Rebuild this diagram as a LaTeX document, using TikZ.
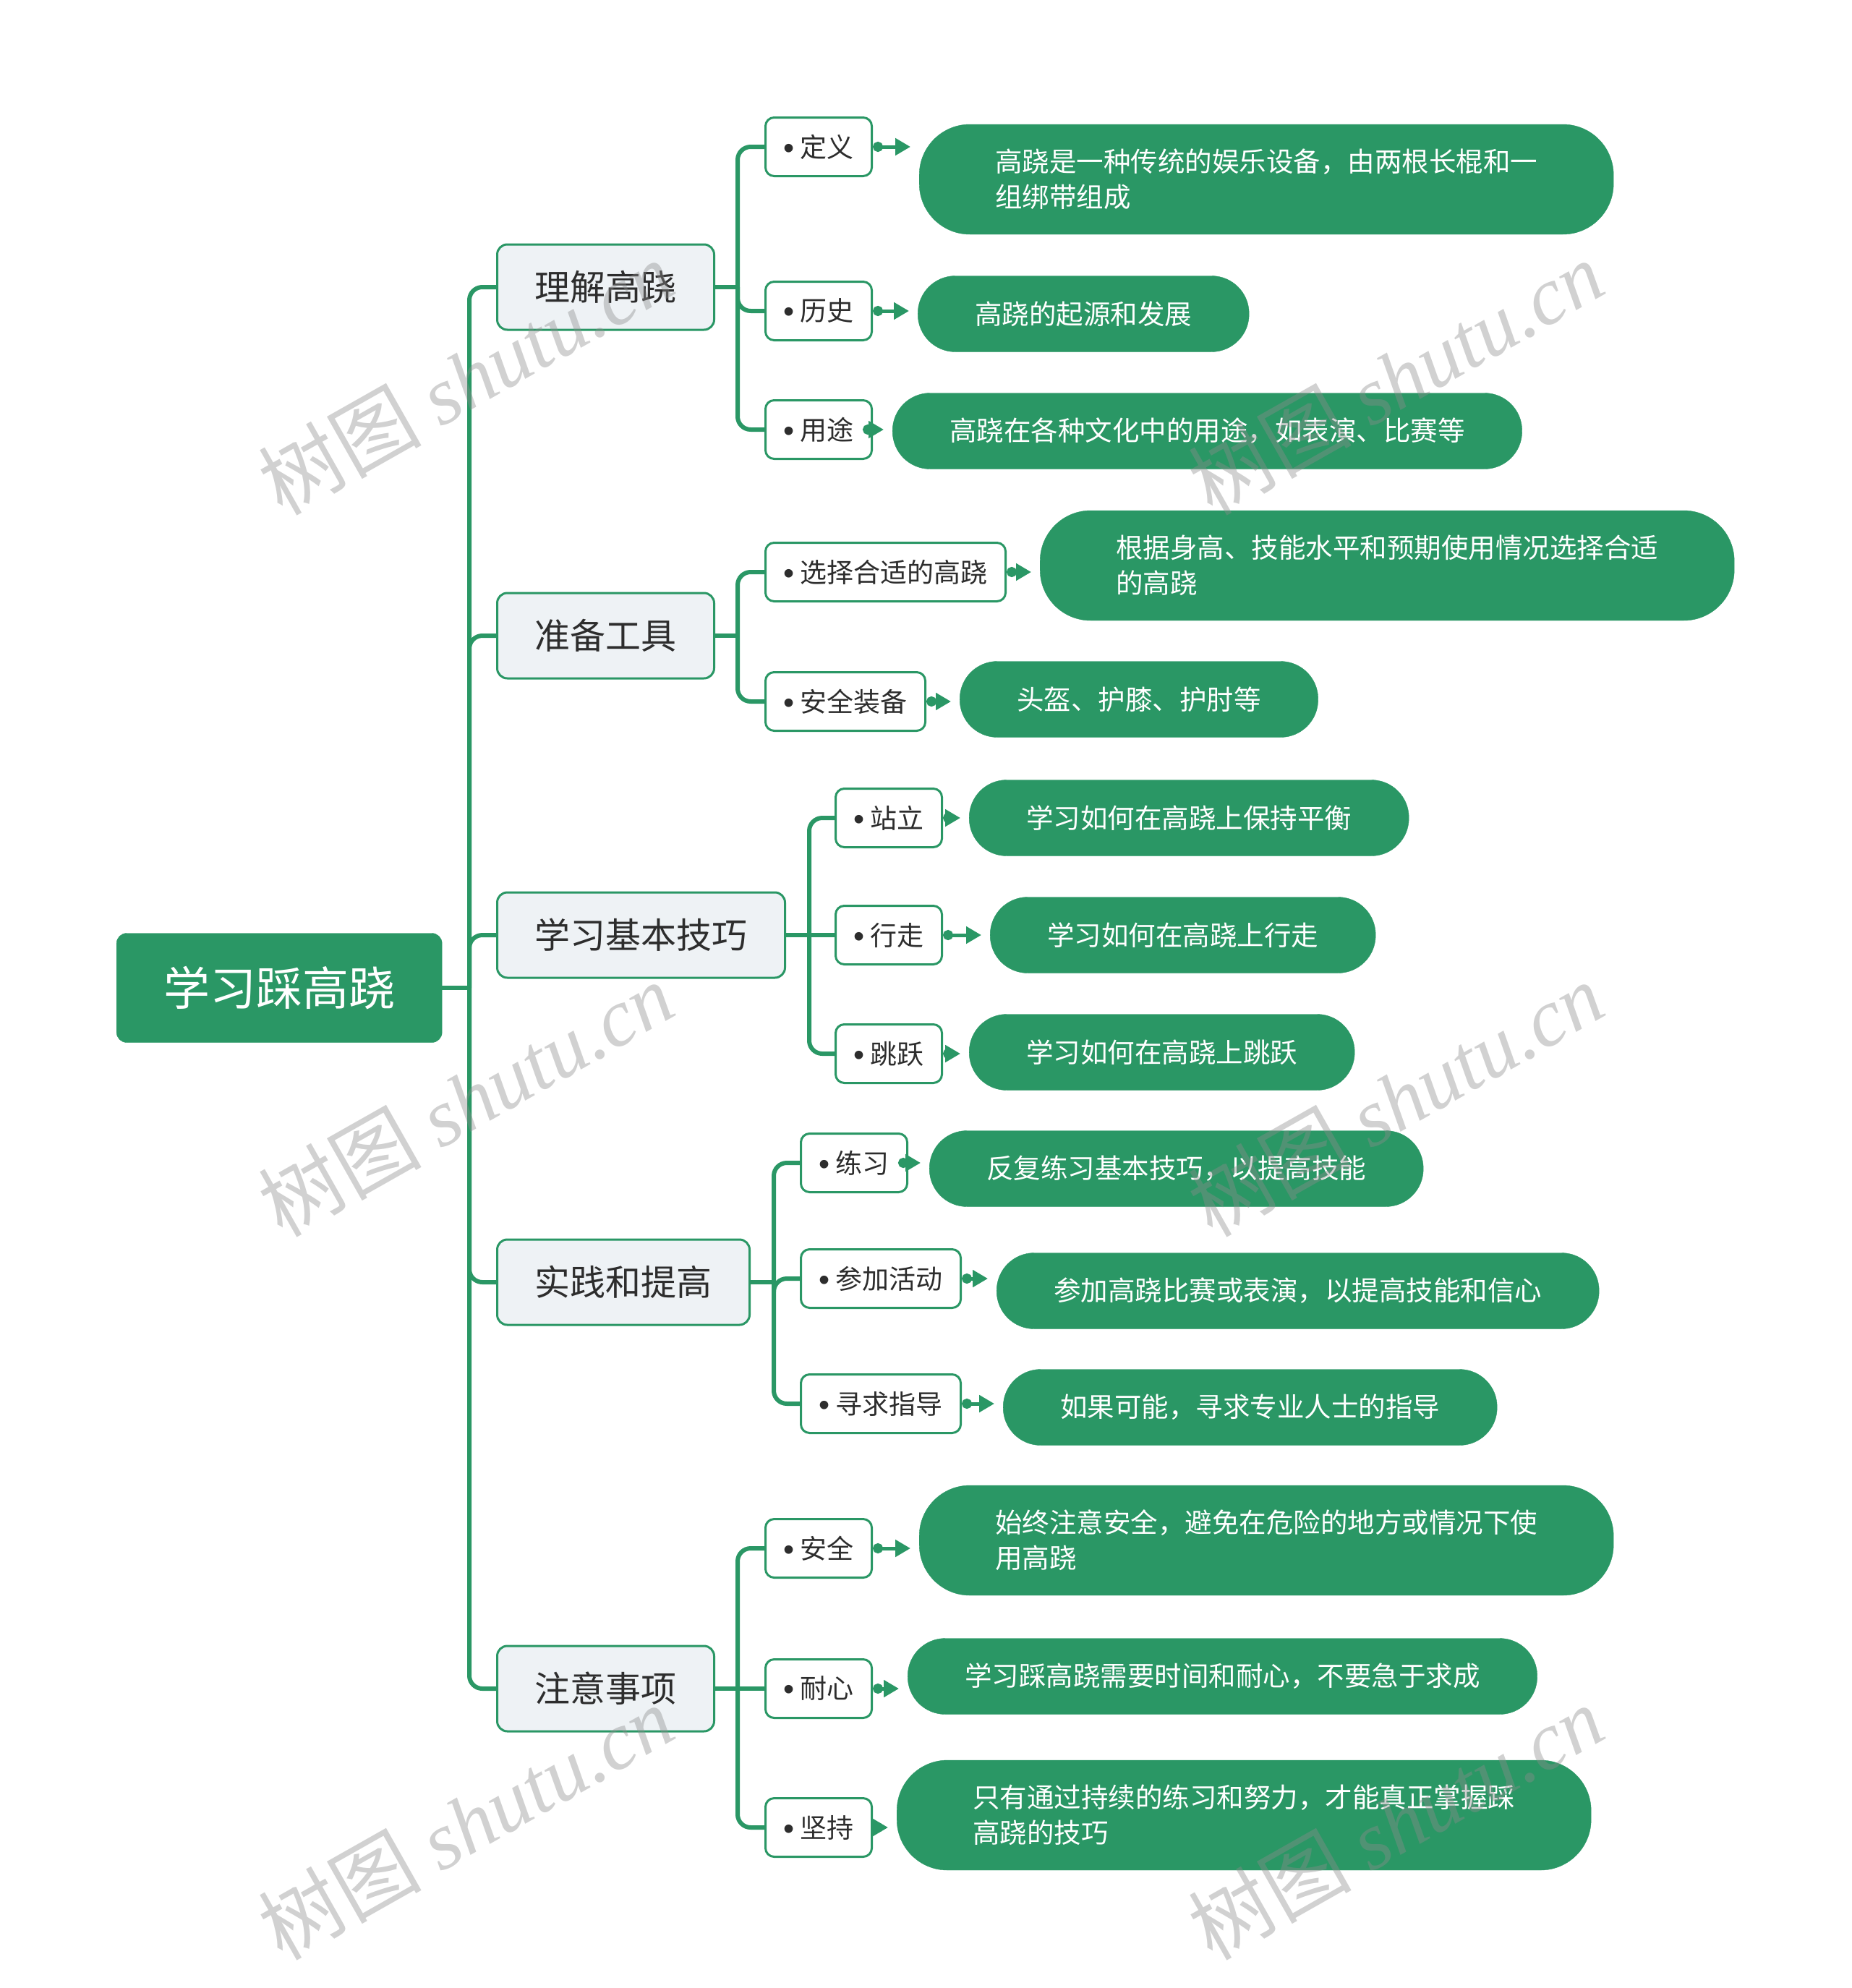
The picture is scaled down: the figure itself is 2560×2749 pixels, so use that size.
\documentclass[tikz,border=0pt]{standalone}
\usepackage{fontspec}
\setmainfont{Noto Sans CJK SC}
\newfontfamily\markfont{Liberation Serif}
\newfontfamily\dotfont{Liberation Sans}
\usetikzlibrary{arrows.meta}

\definecolor{stiltgreen}{RGB}{42,151,101}
\definecolor{topicgray}{RGB}{238,242,245}
\definecolor{inkgray}{RGB}{45,45,45}

\newcommand{\bul}{\raisebox{-2pt}{\dotfont\fontsize{43pt}{43pt}\selectfont\textbullet}\hspace{8pt}}

\tikzset{
  rootbox/.style={fill=stiltgreen, draw=stiltgreen, rounded corners=14pt, text=white, minimum height=151pt, inner xsep=65pt, font=\fontsize{64pt}{64pt}\selectfont, anchor=west},
  topicbox/.style={fill=topicgray, draw=stiltgreen, line width=3pt, rounded corners=14pt, text=inkgray, minimum height=118pt, inner xsep=52pt, font=\fontsize{49pt}{49pt}\selectfont, anchor=west},
  itembox/.style={fill=white, draw=stiltgreen, line width=3pt, rounded corners=12pt, text=inkgray, minimum height=81pt, inner xsep=25pt, font=\fontsize{37pt}{37pt}\selectfont, anchor=west},
  leafbox/.style={fill=stiltgreen, draw=stiltgreen, rounded corners=52pt, text=white, minimum height=105pt, inner xsep=79pt, font=\fontsize{37.5pt}{49pt}\selectfont, anchor=west},
  leaftwo/.style={leafbox, rounded corners=70pt, minimum height=152pt, inner xsep=105pt, align=left},
  branch/.style={draw=stiltgreen, line width=6pt, rounded corners=18pt},
  link/.style={draw=stiltgreen, line width=5pt, {Circle[length=14pt]}-{Triangle[length=21pt,width=23pt,sep=5pt]}, shorten >=7pt},
  stamp/.style={text=black!45, opacity=0.4, rotate=29.5, font=\fontsize{113pt}{113pt}\selectfont}
}

\begin{document}
\begin{tikzpicture}[x=1pt, y=-1pt]
  \useasboundingbox (0,0) rectangle (2560,2749);

  % root and topics
  \node[rootbox] (root) at (161,1366) {学习踩高跷};
  \node[topicbox] (understand) at (686,397) {理解高跷};
  \node[topicbox] (tools) at (686,879) {准备工具};
  \node[topicbox] (basics) at (686,1293) {学习基本技巧};
  \node[topicbox] (practice) at (686,1773) {实践和提高};
  \node[topicbox] (cautions) at (686,2335) {注意事项};

  \coordinate (t0) at (649,1366);
  \draw[branch] (root.east) -- (t0);
  \draw[branch] (t0) |- (understand.west);
  \draw[branch] (t0) |- (tools.west);
  \draw[branch] (t0) |- (basics.west);
  \draw[branch] (t0) |- (practice.west);
  \draw[branch] (t0) |- (cautions.west);

  % 理解高跷
  \node[itembox] (define) at (1057,203) {\bul 定义};
  \node[itembox] (history) at (1057,430) {\bul 历史};
  \node[itembox] (usage) at (1057,594) {\bul 用途};
  \node[leaftwo] (defineleaf) at (1271,248) {高跷是一种传统的娱乐设备，由两根长棍和一\\组绑带组成};
  \node[leafbox] (historyleaf) at (1269,434) {高跷的起源和发展};
  \node[leafbox] (usageleaf) at (1234,596) {高跷在各种文化中的用途，如表演、比赛等};
  \coordinate (j1) at (1020,397);
  \draw[branch] (understand.east) -- (j1);
  \draw[branch] (j1) |- (define.west);
  \draw[branch] (j1) |- (history.west);
  \draw[branch] (j1) |- (usage.west);
  \draw[link] (define.east) -- (define.east -| defineleaf.west);
  \draw[link] (history.east) -- (history.east -| historyleaf.west);
  \draw[link] (usage.east) -- (usage.east -| usageleaf.west);

  % 准备工具
  \node[itembox] (choose) at (1057,791) {\bul 选择合适的高跷};
  \node[itembox] (gear) at (1057,970) {\bul 安全装备};
  \node[leaftwo] (chooseleaf) at (1438,782) {根据身高、技能水平和预期使用情况选择合适\\的高跷};
  \node[leafbox] (gearleaf) at (1327,967) {头盔、护膝、护肘等};
  \coordinate (j2) at (1020,879);
  \draw[branch] (tools.east) -- (j2);
  \draw[branch] (j2) |- (choose.west);
  \draw[branch] (j2) |- (gear.west);
  \draw[link] (choose.east) -- (choose.east -| chooseleaf.west);
  \draw[link] (gear.east) -- (gear.east -| gearleaf.west);

  % 学习基本技巧
  \node[itembox] (stand) at (1154,1131) {\bul 站立};
  \node[itembox] (walk) at (1154,1293) {\bul 行走};
  \node[itembox] (jump) at (1154,1457) {\bul 跳跃};
  \node[leafbox] (standleaf) at (1340,1131) {学习如何在高跷上保持平衡};
  \node[leafbox] (walkleaf) at (1369,1293) {学习如何在高跷上行走};
  \node[leafbox] (jumpleaf) at (1340,1455) {学习如何在高跷上跳跃};
  \coordinate (j3) at (1119,1293);
  \draw[branch] (basics.east) -- (walk.west);
  \draw[branch] (j3) |- (stand.west);
  \draw[branch] (j3) |- (jump.west);
  \draw[link] (stand.east) -- (stand.east -| standleaf.west);
  \draw[link] (walk.east) -- (walk.east -| walkleaf.west);
  \draw[link] (jump.east) -- (jump.east -| jumpleaf.west);

  % 实践和提高
  \node[itembox] (drill) at (1106,1608) {\bul 练习};
  \node[itembox] (events) at (1106,1768) {\bul 参加活动};
  \node[itembox] (coach) at (1106,1941) {\bul 寻求指导};
  \node[leafbox] (drillleaf) at (1285,1616) {反复练习基本技巧，以提高技能};
  \node[leafbox] (eventsleaf) at (1378,1785) {参加高跷比赛或表演，以提高技能和信心};
  \node[leafbox] (coachleaf) at (1387,1946) {如果可能，寻求专业人士的指导};
  \coordinate (j4) at (1070,1773);
  \draw[branch] (practice.east) -- (j4);
  \draw[branch] (j4) |- (drill.west);
  \draw[branch] (j4) |- (events.west);
  \draw[branch] (j4) |- (coach.west);
  \draw[link] (drill.east) -- (drill.east -| drillleaf.west);
  \draw[link] (events.east) -- (events.east -| eventsleaf.west);
  \draw[link] (coach.east) -- (coach.east -| coachleaf.west);

  % 注意事项
  \node[itembox] (safety) at (1057,2141) {\bul 安全};
  \node[itembox] (patience) at (1057,2335) {\bul 耐心};
  \node[itembox] (persist) at (1057,2527) {\bul 坚持};
  \node[leaftwo] (safetyleaf) at (1271,2130) {始终注意安全，避免在危险的地方或情况下使\\用高跷};
  \node[leafbox] (patienceleaf) at (1255,2318) {学习踩高跷需要时间和耐心，不要急于求成};
  \node[leaftwo] (persistleaf) at (1240,2510) {只有通过持续的练习和努力，才能真正掌握踩\\高跷的技巧};
  \coordinate (j5) at (1020,2335);
  \draw[branch] (cautions.east) -- (patience.west);
  \draw[branch] (j5) |- (safety.west);
  \draw[branch] (j5) |- (persist.west);
  \draw[link] (safety.east) -- (safety.east -| safetyleaf.west);
  \draw[link] (patience.east) -- (patience.east -| patienceleaf.west);
  \draw[link] (persist.east) -- (persist.east -| persistleaf.west);

  % watermark
  \node[stamp] (wm1) at (644,522) {树图 {\markfont\itshape shutu.cn}};
  \node[stamp] (wm2) at (644,1520) {树图 {\markfont\itshape shutu.cn}};
  \node[stamp] (wm3) at (644,2520) {树图 {\markfont\itshape shutu.cn}};
  \node[stamp] (wm4) at (1930,522) {树图 {\markfont\itshape shutu.cn}};
  \node[stamp] (wm5) at (1930,1520) {树图 {\markfont\itshape shutu.cn}};
  \node[stamp] (wm6) at (1930,2520) {树图 {\markfont\itshape shutu.cn}};
\end{tikzpicture}
\end{document}
